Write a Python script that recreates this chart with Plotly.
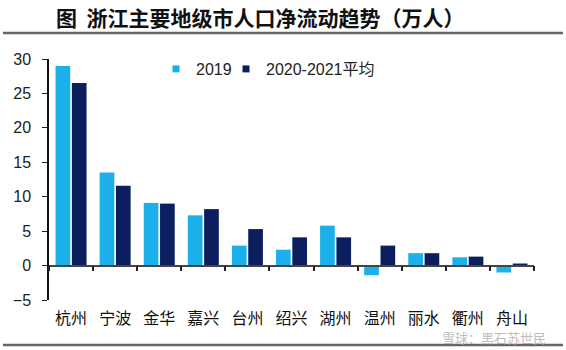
import plotly.graph_objects as go

cities = ["杭州", "宁波", "金华", "嘉兴", "台州", "绍兴", "湖州", "温州", "丽水", "衢州", "舟山"]
v2019 = [29.0, 13.5, 9.1, 7.3, 2.9, 2.3, 5.8, -1.4, 1.8, 1.2, -1.0]
v2021 = [26.5, 11.6, 9.0, 8.2, 5.3, 4.1, 4.1, 2.9, 1.8, 1.3, 0.3]
yticks = [-5, 0, 5, 10, 15, 20, 25, 30]
series_names = ["2019", "2020-2021平均"]
colors = ["#1CB0EA", "#0B1F5E"]
title = "图  浙江主要地级市人口净流动趋势（万人）"
watermark = "雪球：黑石苏世民"

W, H = 566, 350
L, R, T, B = 49, 32, 59, 50
PW, PH = W - L - R, H - T - B
n = len(cities)

def px_x(x):
    return (x - L) / PW

def px_y(y):
    return (H - B - y) / PH

fig = go.Figure()
for vals, name, col in zip([v2019, v2021], series_names, colors):
    fig.add_bar(x=list(range(n)), y=vals, name=name, marker_color=col,
                marker_line_width=0, showlegend=False)
# legend proxies (small squares like the reference), one legend box each
legend_ids = ["legend", "legend2"]
for name, col, lid in zip(series_names, colors, legend_ids):
    fig.add_scatter(x=[None], y=[None], mode="markers", name=name, legend=lid,
                    marker=dict(symbol="square", size=7, color=col))

zero_pos = (0 - yticks[0]) / (yticks[-1] - yticks[0])
legend_font = dict(size=16, family="Liberation Sans, Noto Sans CJK SC", color="#222")

fig.update_layout(
    width=W, height=H,
    margin=dict(l=L, r=R, t=T, b=B),
    paper_bgcolor="white", plot_bgcolor="white",
    barmode="group", bargap=0.26, bargroupgap=0.1,
    font=dict(family="Liberation Sans, Arial", color="#222"),
    showlegend=True,
    legend=dict(orientation="h", x=px_x(156), y=px_y(52), xanchor="left", yanchor="top",
                font=legend_font, itemwidth=30, bgcolor="rgba(0,0,0,0)"),
    legend2=dict(orientation="h", x=px_x(226), y=px_y(52), xanchor="left", yanchor="top",
                 font=legend_font, itemwidth=30, bgcolor="rgba(0,0,0,0)"),
    xaxis=dict(range=[-0.5, n - 0.5], tickmode="array", tickvals=list(range(n)),
               ticktext=cities, showline=False, showgrid=False, ticks="",
               tickfont=dict(size=16, family="Noto Sans CJK SC", color="#111"),
               ticklabelstandoff=7, zeroline=False),
    xaxis2=dict(overlaying="x", anchor="free", position=zero_pos, side="bottom",
                range=[-0.5, n - 0.5], tickmode="array",
                tickvals=[i + 0.5 for i in range(-1, n)], showticklabels=False,
                showline=True, linecolor="#444", linewidth=1.5, ticks="outside",
                ticklen=5, tickcolor="#222", tickwidth=1.5, showgrid=False, zeroline=False),
    yaxis=dict(range=[yticks[0], yticks[-1]], tickmode="array", tickvals=yticks,
               showline=True, linecolor="#111", linewidth=1.5, ticks="outside",
               ticklen=5, tickcolor="#222", showgrid=False, zeroline=False,
               ticklabelstandoff=8,
               tickfont=dict(size=16, family="Liberation Sans, Arial", color="#222")),
)
fig.add_scatter(x=[0], y=[0], xaxis="x2", mode="markers", marker=dict(opacity=0),
                showlegend=False, hoverinfo="skip")

fig.add_annotation(text="<b>" + title + "</b>", xref="paper", yref="paper",
                   x=px_x(260), y=px_y(17), xanchor="center", yanchor="middle",
                   showarrow=False,
                   font=dict(size=21, family="Noto Sans CJK SC", color="#111"))
fig.add_annotation(text=watermark, xref="paper", yref="paper",
                   x=px_x(548), y=px_y(337), xanchor="right", yanchor="middle",
                   showarrow=False,
                   font=dict(size=13, family="Noto Sans CJK SC", color="rgba(160,160,160,0.7)"))

for yy in (33, 345):
    fig.add_shape(type="line", xref="paper", yref="paper",
                  x0=px_x(3), x1=px_x(563), y0=px_y(yy), y1=px_y(yy),
                  line=dict(color="#666", width=2.5))

fig.write_html("out.html")
